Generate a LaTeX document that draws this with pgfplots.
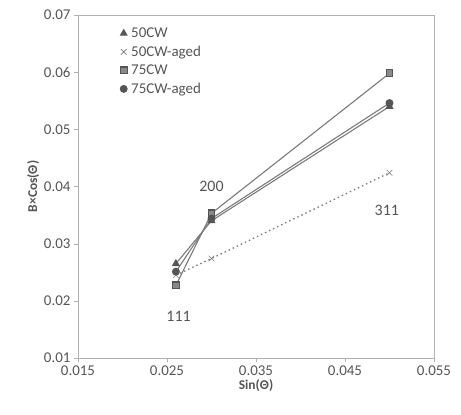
\documentclass[border=0pt]{standalone}
\usepackage{fontspec}
\setmainfont{Carlito}
\usepackage{pgfplots}
\pgfplotsset{compat=1.18}
\definecolor{linegray}{HTML}{7A7A7A}
\definecolor{markgray}{HTML}{555555}
\definecolor{sqfill}{HTML}{8A8A8A}
\definecolor{framegray}{HTML}{B0B0B0}
\definecolor{txtgray}{HTML}{555555}

\begin{document}
\begin{tikzpicture}
\begin{axis}[
  scale only axis,
  width=356bp, height=343bp,
  xmin=0.015, xmax=0.055,
  ymin=0.01, ymax=0.07,
  xtick={0.015,0.025,0.035,0.045,0.055},
  ytick={0.01,0.02,0.03,0.04,0.05,0.06,0.07},
  xticklabel style={/pgf/number format/.cd,fixed,precision=3,zerofill},
  yticklabel style={/pgf/number format/.cd,fixed,precision=2,zerofill},
  /pgf/number format/assume math mode=true,
  scaled ticks=false,
  tick label style={font=\fontsize{15}{16}\selectfont, text=txtgray},
  axis line style={draw=framegray},
  tick style={draw=framegray},
  tick align=outside,
  major tick length=4bp,
  xtick pos=bottom, ytick pos=left,
  xlabel={\textbf{Sin(Θ)}},
  ylabel={\textbf{B×Cos(Θ)}},
  label style={font=\fontsize{13.5}{15}\selectfont, text=txtgray},
  xlabel style={yshift=3bp},
  ylabel style={yshift=-2bp},
  clip=false,
  legend style={at={(0.11,0.975)}, anchor=north west, draw=none, fill=none,
    font=\fontsize{15}{16}\selectfont, text=txtgray,
    row sep=3bp, cells={anchor=west}},
  legend image code/.code={\draw[#1] plot coordinates {(0.25cm,0cm)};
    \path (0.42cm,0cm);},
]
\addplot[draw=linegray, line width=1.1pt, mark=triangle*, mark size=3.6pt,
  mark options={solid, fill=markgray, draw=markgray}]
  coordinates {(0.026,0.0265)(0.030,0.0340)(0.050,0.0540)};
\addlegendentry{50CW}

\addplot[draw=linegray, line width=1.3pt, dash pattern=on 1.5pt off 3pt,
  mark=x, mark size=4pt,
  mark options={solid, draw=linegray, line width=0.6pt}]
  coordinates {(0.026,0.0245)(0.030,0.0274)(0.050,0.0424)};
\addlegendentry{50CW-aged}

\addplot[draw=linegray, line width=1.1pt, mark=square*, mark size=3.4pt,
  mark options={solid, fill=sqfill, draw=markgray}]
  coordinates {(0.026,0.0227)(0.030,0.0353)(0.050,0.0598)};
\addlegendentry{75CW}

\addplot[draw=linegray, line width=1.1pt, mark=*, mark size=3.4pt,
  mark options={solid, fill=markgray, draw=markgray}]
  coordinates {(0.026,0.0251)(0.030,0.0344)(0.050,0.0546)};
\addlegendentry{75CW-aged}

\node[font=\fontsize{16}{18}\selectfont, text=txtgray] at (axis cs:0.0300,0.0400) {200};
\node[font=\fontsize{16}{18}\selectfont, text=txtgray] at (axis cs:0.0263,0.0172) {111};
\node[font=\fontsize{16}{18}\selectfont, text=txtgray] at (axis cs:0.0497,0.0358) {311};

\path (rel axis cs:0,0) ++(-78bp,-57bp) coordinate (bbsw);
\path (rel axis cs:1,1) ++(27bp,15bp) coordinate (bbne);
\path (bbsw) rectangle (bbne);
\end{axis}
\end{tikzpicture}
\end{document}
